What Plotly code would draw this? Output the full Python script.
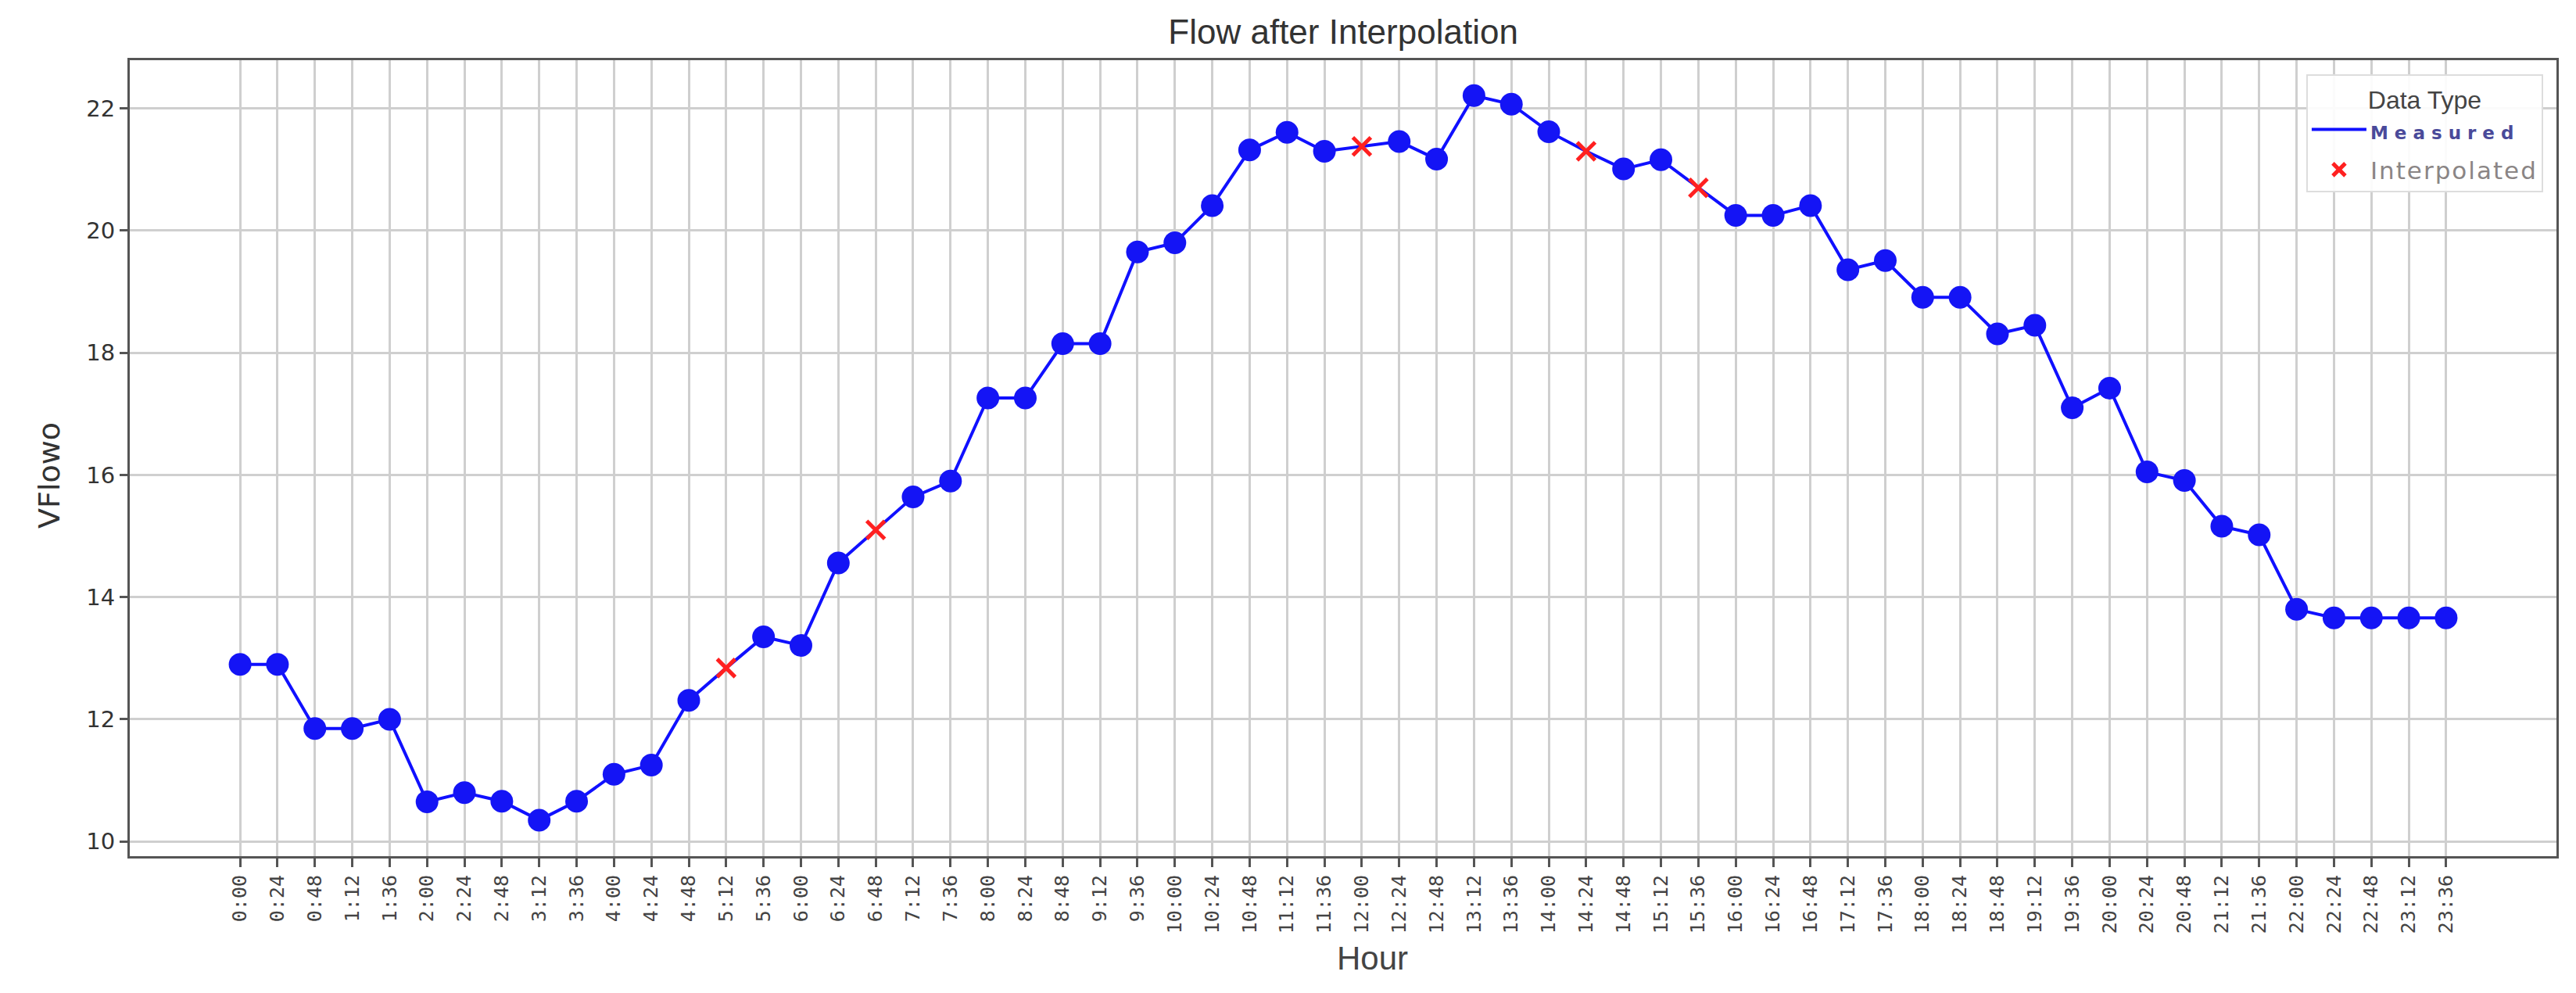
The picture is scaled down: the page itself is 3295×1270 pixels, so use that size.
import plotly.graph_objects as go

hours = ["0:00", "0:24", "0:48", "1:12", "1:36", "2:00", "2:24", "2:48", "3:12", "3:36",
         "4:00", "4:24", "4:48", "5:12", "5:36", "6:00", "6:24", "6:48", "7:12", "7:36",
         "8:00", "8:24", "8:48", "9:12", "9:36", "10:00", "10:24", "10:48", "11:12", "11:36",
         "12:00", "12:24", "12:48", "13:12", "13:36", "14:00", "14:24", "14:48", "15:12", "15:36",
         "16:00", "16:24", "16:48", "17:12", "17:36", "18:00", "18:24", "18:48", "19:12", "19:36",
         "20:00", "20:24", "20:48", "21:12", "21:36", "22:00", "22:24", "22:48", "23:12", "23:36"]

flow = [12.90, 12.90, 11.85, 11.85, 12.00, 10.65, 10.80, 10.66, 10.35, 10.66,
        11.10, 11.25, 12.31, 12.84, 13.35, 13.21, 14.56, 15.10, 15.64, 15.90,
        17.26, 17.26, 18.15, 18.15, 19.65, 19.80, 20.41, 21.32, 21.61, 21.30,
        21.38, 21.46, 21.17, 22.21, 22.07, 21.62, 21.30, 21.01, 21.16, 20.70,
        20.25, 20.25, 20.41, 19.36, 19.51, 18.91, 18.91, 18.31, 18.45, 17.10,
        17.42, 16.05, 15.91, 15.16, 15.02, 13.80, 13.66, 13.66, 13.66, 13.66]

data_type = ["Measured"] * 60
for i in (13, 17, 30, 36, 39):
    data_type[i] = "Interpolated"

y_ticks = [10, 12, 14, 16, 18, 20, 22]

meas_x = [h for h, t in zip(hours, data_type) if t == "Measured"]
meas_y = [v for v, t in zip(flow, data_type) if t == "Measured"]
int_x = [h for h, t in zip(hours, data_type) if t == "Interpolated"]
int_y = [v for v, t in zip(flow, data_type) if t == "Interpolated"]

fig = go.Figure()
fig.add_trace(go.Scatter(
    x=hours, y=flow, mode="lines",
    line=dict(color="#1010ff", width=4),
    legendgroup="m",
    name='<span style="letter-spacing:8px;font-weight:bold;color:#4a4a9a;font-size:23px">Measured</span>',
))
fig.add_trace(go.Scatter(
    x=meas_x, y=meas_y, mode="markers",
    marker=dict(color="#1414f5", size=29, symbol="circle"),
    showlegend=False, legendgroup="m",
))
fig.add_trace(go.Scatter(
    x=int_x, y=int_y, mode="markers",
    marker=dict(symbol="x-thin", size=23, color="#ff2020",
                line=dict(color="#ff2020", width=5)),
    legendgroup="i",
    name='<span style="letter-spacing:2px;color:#8a8585">Interpolated</span>',
))

fig.update_layout(
    width=3295, height=1270,
    margin=dict(l=158, r=33, t=69, b=183),
    paper_bgcolor="white", plot_bgcolor="white",
    title=dict(text="Flow after Interpolation", x=0.519, xanchor="center",
               y=0.974, yanchor="middle", yref="container",
               font=dict(family="Liberation Sans, Arial", size=44, color="#333333")),
    legend=dict(
        title=dict(text="Data Type", side="top center",
                   font=dict(family="Liberation Sans, Arial", size=32, color="#444444")),
        x=0.9945, xanchor="right", y=0.982, yanchor="top",
        bgcolor="rgba(255,255,255,0.9)", bordercolor="#dddddd", borderwidth=2,
        font=dict(family="DejaVu Sans", size=31, color="#8a8585"),
        itemwidth=70, tracegroupgap=8,
    ),
    showlegend=True,
)

fig.update_xaxes(
    type="category", categoryorder="array", categoryarray=hours,
    range=[-2.95, 61.95],
    showgrid=True, gridcolor="#cfcfcf", gridwidth=3,
    showline=True, linecolor="#555555", linewidth=3, mirror=True,
    ticks="outside", ticklen=11, tickwidth=3, tickcolor="#555555",
    tickangle=-90,
    tickfont=dict(family="DejaVu Sans Mono", size=25, color="#444444"),
    zeroline=False,
)
fig.update_yaxes(
    range=[9.76, 22.79], tickvals=y_ticks,
    showgrid=True, gridcolor="#cfcfcf", gridwidth=3,
    showline=True, linecolor="#555555", linewidth=3, mirror=True,
    ticks="outside", ticklen=10, tickwidth=3, tickcolor="#555555",
    tickfont=dict(family="DejaVu Sans", size=29, color="#333333"),
    zeroline=False,
)

fig.add_annotation(text="Hour", xref="paper", yref="paper",
                   x=0.512, y=-0.128, xanchor="center", yanchor="middle",
                   showarrow=False,
                   font=dict(family="Liberation Sans, Arial", size=42, color="#444444"))
fig.add_annotation(text="VFlowo", xref="paper", yref="paper",
                   x=-0.033, y=0.478, xanchor="center", yanchor="middle",
                   textangle=-90, showarrow=False,
                   font=dict(family="DejaVu Sans", size=38, color="#333333"))

fig.write_html("out.html")
